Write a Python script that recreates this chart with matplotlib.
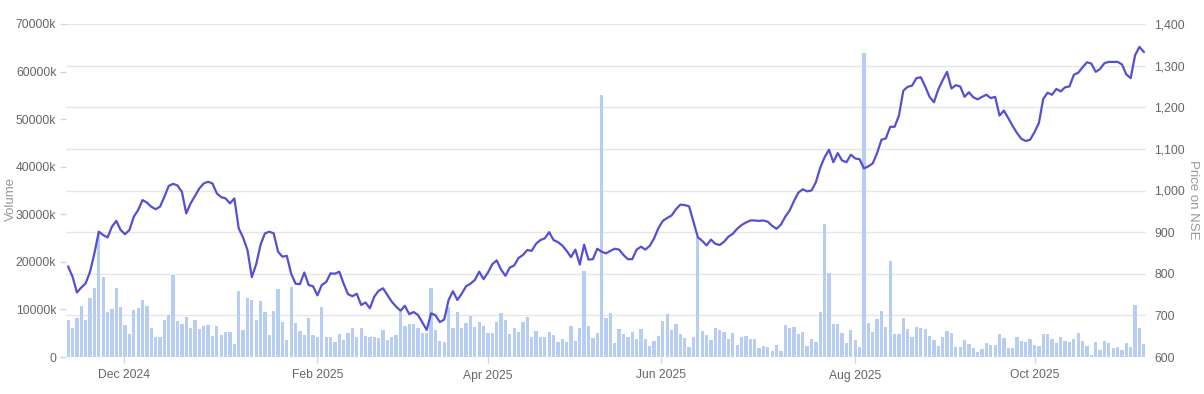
import numpy as np
import pandas as pd
from matplotlib import pyplot as plt
from matplotlib.ticker import FuncFormatter

# daily volume (millions of shares), one value per trading day
volume = [
    7.8, 6.2, 8.3, 10.7, 7.8, 12.5, 14.6, 26.0, 16.8, 9.4,
    10.1, 14.6, 10.6, 6.7, 4.8, 9.8, 10.4, 11.9, 10.7, 6.2,
    4.1, 4.3, 7.8, 8.8, 17.2, 7.6, 7.0, 8.4, 6.2, 7.8,
    5.8, 6.6, 6.8, 4.4, 6.5, 4.6, 5.3, 5.3, 2.7, 13.9,
    5.6, 12.5, 12.0, 7.8, 11.8, 9.5, 4.6, 9.7, 14.2, 7.4,
    3.5, 14.8, 7.2, 5.5, 4.7, 8.2, 4.6, 4.1, 10.5, 4.2,
    4.3, 3.1, 4.9, 3.5, 5.0, 6.2, 4.1, 6.0, 4.4, 4.3,
    4.1, 4.0, 5.6, 3.5, 4.1, 4.6, 9.4, 6.6, 6.9, 7.0,
    6.0, 5.0, 5.0, 14.4, 5.7, 3.4, 3.2, 10.6, 6.0, 9.5,
    6.2, 7.2, 8.6, 6.4, 7.4, 6.6, 5.0, 5.1, 7.3, 9.2,
    7.8, 4.8, 6.2, 5.3, 7.3, 8.5, 4.1, 5.5, 4.1, 4.1,
    5.3, 4.7, 3.1, 3.8, 3.2, 6.6, 3.4, 6.0, 18.1, 6.6,
    3.9, 5.0, 55.0, 8.3, 9.3, 3.0, 5.8, 4.8, 4.1, 5.3,
    3.7, 5.9, 3.8, 2.3, 3.3, 4.4, 7.6, 9.1, 5.7, 6.9,
    4.8, 3.9, 2.0, 4.1, 25.3, 5.4, 4.6, 3.6, 6.2, 5.7,
    5.3, 3.8, 5.0, 2.5, 4.1, 4.5, 3.8, 3.8, 1.9, 2.4,
    2.0, 1.3, 2.5, 1.2, 6.7, 6.2, 6.4, 4.8, 5.3, 2.3,
    3.7, 3.2, 9.4, 28.0, 17.6, 6.9, 6.9, 5.0, 3.0, 5.7,
    3.6, 2.2, 63.9, 7.1, 5.3, 7.9, 9.7, 6.4, 20.1, 4.8,
    4.8, 8.1, 5.8, 4.3, 6.4, 6.2, 5.8, 4.4, 3.6, 2.3,
    4.1, 5.5, 5.0, 2.2, 2.2, 3.6, 2.7, 1.8, 1.1, 1.7,
    2.9, 2.5, 2.5, 4.8, 3.9, 1.8, 1.8, 4.1, 3.4, 3.2,
    3.7, 2.5, 2.4, 4.8, 4.8, 3.7, 3.0, 4.3, 3.4, 3.2,
    3.7, 5.0, 3.4, 2.4, 0.4, 3.2, 1.5, 3.4, 2.9, 1.8,
    2.0, 1.5, 2.9, 2.0, 10.9, 6.0, 2.7,
]

# closing price on NSE, same trading days
price = [
    817, 793, 755, 767, 777, 805, 849, 901, 893, 887,
    913, 927, 905, 895, 905, 937, 953, 977, 971, 961,
    955, 961, 985, 1011, 1016, 1012, 997, 945, 969, 987,
    1005, 1017, 1021, 1017, 993, 984, 981, 969, 981, 909,
    887, 857, 792, 823, 870, 897, 901, 897, 853, 841,
    843, 800, 776, 775, 803, 773, 770, 748, 773, 780,
    801, 800, 805, 776, 751, 746, 752, 725, 731, 717,
    745, 759, 765, 749, 733, 721, 711, 723, 703, 708,
    701, 683, 665, 705, 700, 684, 690, 737, 758, 737,
    752, 770, 776, 785, 805, 787, 803, 823, 832, 810,
    795, 815, 820, 838, 845, 857, 855, 872, 881, 885,
    900, 881, 876, 868, 855, 840, 858, 822, 870, 834,
    835, 860, 853, 849, 855, 860, 858, 845, 835, 835,
    858, 865, 858, 867, 885, 910, 927, 934, 940, 955,
    966, 965, 962, 925, 888, 879, 868, 882, 872, 869,
    877, 889, 896, 908, 917, 923, 928, 928, 927, 928,
    925, 915, 908, 918, 937, 952, 975, 995, 1003, 998,
    1000, 1020, 1055, 1080, 1098, 1068, 1090, 1072, 1068, 1086,
    1077, 1075, 1053, 1058, 1065, 1090, 1122, 1125, 1153, 1153,
    1180, 1240, 1249, 1252, 1270, 1272, 1250, 1225, 1212, 1243,
    1265, 1285, 1245, 1253, 1250, 1225, 1236, 1224, 1219, 1225,
    1230, 1222, 1225, 1180, 1192, 1174, 1155, 1138, 1124, 1119,
    1122, 1140, 1162, 1220, 1235, 1230, 1244, 1238, 1248, 1250,
    1278, 1283, 1296, 1308, 1305, 1285, 1292, 1306, 1309, 1309,
    1309, 1303, 1279, 1270, 1325, 1345, 1333,
]

# NSE trading calendar
holidays = ['2024-11-15', '2024-11-20', '2024-12-25', '2025-02-26',
            '2025-03-14', '2025-03-31', '2025-04-10', '2025-04-14',
            '2025-04-18', '2025-05-01', '2025-08-15', '2025-08-27',
            '2025-10-02', '2025-10-22', '2025-11-05']
special_sessions = ['2025-02-01']
tick_months = pd.date_range('2024-12-01', '2025-10-01', freq='2MS')

n = len(volume)
dates = pd.bdate_range('2024-11-11', '2025-12-31', freq='C', holidays=holidays)
dates = dates.union(pd.DatetimeIndex(special_sessions))[:n]
idx = np.arange(n)

# ordinal axis: month boundaries sit between trading days
day_num = (dates - dates[0]).days.values
tick_pos = np.interp((tick_months - dates[0]).days.values, day_num, idx)
tick_lab = [d.strftime('%b %Y') for d in tick_months]

plt.rcParams['font.family'] = ['Liberation Sans', 'DejaVu Sans']

fig = plt.figure(figsize=(12.04, 3.94), dpi=100)
ax_grid = fig.add_axes([66/1204, 37/394, 1080/1204, 333/394])
ax_vol = ax_grid.twinx()
ax_line = ax_grid.twinx()

grey = '#666666'
tickc = '#ccd6eb'

# price scale + gridlines (bottom layer)
ax_grid.set_ylim(600, 1400)
ax_grid.set_yticks(np.arange(600, 1401, 100))
ax_grid.yaxis.set_major_formatter(FuncFormatter(lambda v, p: f'{v:,.0f}'))
ax_grid.yaxis.tick_right()
ax_grid.grid(axis='y', color='#e6e6e6', linewidth=1)
ax_grid.tick_params(axis='y', length=0, pad=6, labelsize=8.7, labelcolor=grey)

# volume bars
ax_vol.bar(idx, volume, width=0.75, color='#b7cdf4', zorder=2)
ax_vol.set_ylim(0, 70)
ax_vol.set_yticks(np.arange(0, 71, 10))
ax_vol.yaxis.set_major_formatter(FuncFormatter(lambda v, p: '0' if v == 0 else f'{v*1000:.0f}k'))
ax_vol.yaxis.tick_left()
ax_vol.tick_params(axis='y', length=4, width=1, color=tickc, pad=3, labelsize=8.7, labelcolor=grey)

# price line
ax_line.plot(idx, price, '-', color='#5550d2', linewidth=1.6, solid_joinstyle='round')
ax_line.set_ylim(600, 1400)
ax_line.set_yticks([])

for a in (ax_grid, ax_vol, ax_line):
    for s in a.spines.values():
        s.set_visible(False)
    a.set_xlim(-0.5, n - 0.5)

ax_grid.set_xticks(tick_pos)
ax_grid.set_xticklabels(tick_lab)
ax_grid.tick_params(axis='x', length=4, width=1, color=tickc, pad=5, labelsize=8.7, labelcolor=grey)
for a in (ax_vol, ax_line):
    a.tick_params(axis='x', which='both', bottom=False, labelbottom=False)

# axis titles
fig.text(11/1204, 1 - 199/394, 'Volume', rotation=90, ha='center', va='center',
         color='#999999', fontsize=9.5)
fig.text(1193/1204, 1 - 200/394, 'Price on NSE', rotation=270, ha='center', va='center',
         color='#999999', fontsize=9.5)

plt.savefig('out.png', dpi=100)
plt.close(fig)
